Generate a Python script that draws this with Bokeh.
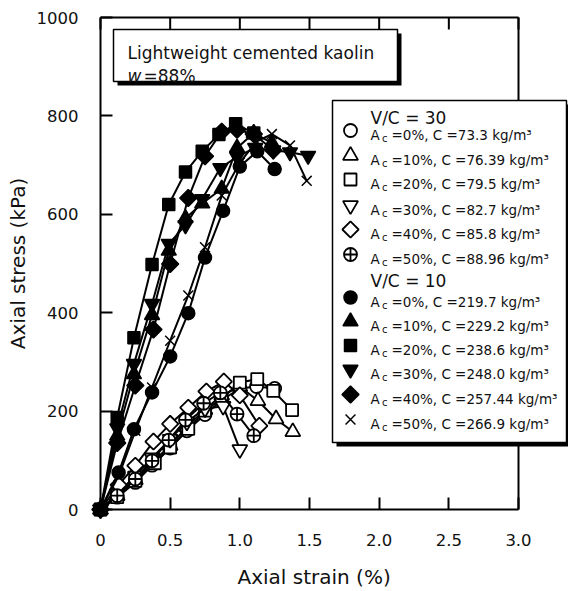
import numpy as np
from bokeh.plotting import figure
from bokeh.models import Range1d, FixedTicker, BoxAnnotation, Label, Title
from bokeh.embed import file_html
from bokeh.resources import INLINE

FONT = "DejaVu Sans"

# ---------------- data ----------------
X_TICKS = [0, 0.5, 1.0, 1.5, 2.0, 2.5, 3.0]
X_TICK_LABELS = ["0", "0.5", "1.0", "1.5", "2.0", "2.5", "3.0"]
Y_TICKS = [0, 200, 400, 600, 800, 1000]
Y_TICK_LABELS = ["0", "200", "400", "600", "800", "1000"]
X_MIN, X_MAX = 0.0, 3.0
Y_MIN, Y_MAX = 0, 1000
X_TITLE = "Axial strain (%)"
Y_TITLE = "Axial stress (kPa)"

AC_LABELS = ["0%", "10%", "20%", "30%", "40%", "50%"]
C_VC30 = ["73.3", "76.39", "79.5", "82.7", "85.8", "88.96"]
C_VC10 = ["219.7", "229.2", "238.6", "248.0", "257.44", "266.9"]
GROUP_TITLES = ["V/C = 30", "V/C = 10"]

# V/C = 30 (open symbols)
vc30_ac0_x = [0, 0.12, 0.25, 0.37, 0.50, 0.62, 0.75, 0.87, 1.00, 1.12, 1.25]
vc30_ac0_y = [0, 25, 55, 90, 125, 160, 193, 222, 246, 250, 246]
vc30_ac10_x = [0, 0.12, 0.25, 0.37, 0.50, 0.62, 0.75, 0.87, 1.00, 1.13, 1.26, 1.38]
vc30_ac10_y = [0, 28, 60, 95, 130, 168, 203, 232, 250, 221, 184, 158]
vc30_ac20_x = [0, 0.12, 0.25, 0.39, 0.50, 0.63, 0.75, 0.87, 1.00, 1.125, 1.24, 1.375]
vc30_ac20_y = [0, 25, 58, 94, 126, 164, 201, 225, 258, 265, 241, 202]
vc30_ac30_x = [0, 0.12, 0.25, 0.37, 0.50, 0.62, 0.75, 0.88, 1.00]
vc30_ac30_y = [0, 32, 68, 105, 143, 178, 205, 210, 122]
vc30_ac40_x = [0, 0.13, 0.25, 0.38, 0.50, 0.63, 0.76, 0.885, 1.00, 1.14]
vc30_ac40_y = [0, 50, 89, 138, 174, 207, 240, 260, 232, 170]
vc30_ac50_x = [0, 0.12, 0.25, 0.37, 0.49, 0.61, 0.74, 0.86, 0.98, 1.10]
vc30_ac50_y = [0, 28, 62, 99, 141, 182, 216, 237, 194, 150]

# V/C = 10 (filled symbols)
vc10_ac0_x = [0, 0.13, 0.24, 0.37, 0.50, 0.63, 0.75, 0.88, 1.00, 1.125, 1.25]
vc10_ac0_y = [0, 75, 163, 238, 311, 399, 512, 607, 697, 728, 692]
vc10_ac10_x = [0, 0.12, 0.24, 0.37, 0.49, 0.61, 0.73, 0.87, 0.98, 1.10, 1.23]
vc10_ac10_y = [0, 150, 275, 395, 526, 592, 622, 652, 735, 765, 745]
vc10_ac20_x = [0, 0.12, 0.24, 0.37, 0.49, 0.61, 0.73, 0.85, 0.97, 1.10]
vc10_ac20_y = [0, 187, 349, 498, 620, 686, 728, 762, 784, 765]
vc10_ac30_x = [0, 0.12, 0.24, 0.37, 0.49, 0.61, 0.73, 0.86, 0.98, 1.11, 1.24, 1.36, 1.49]
vc10_ac30_y = [0, 165, 296, 418, 540, 578, 631, 694, 717, 735, 730, 726, 719]
vc10_ac40_x = [0, 0.12, 0.25, 0.38, 0.50, 0.63, 0.75, 0.87, 0.98, 1.10, 1.24]
vc10_ac40_y = [0, 135, 252, 366, 499, 633, 718, 768, 772, 763, 730]
vc10_ac50_x = [0, 0.13, 0.25, 0.37, 0.50, 0.63, 0.75, 0.87, 1.00, 1.12, 1.23, 1.36, 1.48]
vc10_ac50_y = [0, 68, 160, 248, 343, 435, 533, 638, 705, 748, 763, 740, 668]

VC30_SERIES = [(vc30_ac0_x, vc30_ac0_y), (vc30_ac10_x, vc30_ac10_y), (vc30_ac20_x, vc30_ac20_y),
               (vc30_ac30_x, vc30_ac30_y), (vc30_ac40_x, vc30_ac40_y), (vc30_ac50_x, vc30_ac50_y)]
VC10_SERIES = [(vc10_ac0_x, vc10_ac0_y), (vc10_ac10_x, vc10_ac10_y), (vc10_ac20_x, vc10_ac20_y),
               (vc10_ac30_x, vc10_ac30_y), (vc10_ac40_x, vc10_ac40_y), (vc10_ac50_x, vc10_ac50_y)]

# ---------------- styles / layout ----------------
MARKERS = [("circle", 13, 0.0), ("triangle", 15, 0.0), ("square", 12, 0.0),
           ("inverted_triangle", 15, 0.0), ("square", 11.5, np.pi / 4), ("circle_cross", 13, 0.0)]
MARKERS_FILLED = [("circle", 13, 0.0), ("triangle", 15, 0.0), ("square", 12, 0.0),
                  ("inverted_triangle", 15, 0.0), ("square", 12, np.pi / 4), ("x", 14, 0.0)]

AXES_W = 418            # pixel width of the 0..3 strain span
FRAME_W = 468           # frame extends to the right edge so the legend is not clipped
FRAME_H = 492
X_VIEW_MAX = X_MAX * FRAME_W / AXES_W
TICK_LEN = 12

p = figure(frame_width=FRAME_W, frame_height=FRAME_H,
           x_range=Range1d(X_MIN, X_VIEW_MAX), y_range=Range1d(Y_MIN, Y_MAX),
           output_backend="svg", toolbar_location=None,
           min_border_left=100, min_border_right=0, min_border_top=17, min_border_bottom=40,
           y_axis_label=Y_TITLE)
p.xgrid.visible = False
p.ygrid.visible = False
p.outline_line_color = None
p.background_fill_color = "white"
p.border_fill_color = "white"
p.extra_x_ranges = {"px": Range1d(0, FRAME_W)}
p.extra_y_ranges = {"py": Range1d(0, FRAME_H)}


def style_axis(ax, ticks, labels):
    ax.ticker = FixedTicker(ticks=ticks, minor_ticks=[])
    ax.axis_line_color = "black"
    ax.axis_line_width = 2
    ax.major_tick_in = TICK_LEN
    ax.major_tick_out = 0
    ax.major_tick_line_color = "black"
    ax.major_tick_line_width = 2
    ax.minor_tick_line_color = None
    ax.major_label_overrides = {t: l for t, l in zip(ticks, labels)}
    ax.major_label_text_font = FONT
    ax.major_label_text_font_size = "16.5px"
    ax.major_label_text_color = "#111111"
    ax.axis_label_text_font = FONT
    ax.axis_label_text_font_size = "20px"
    ax.axis_label_text_font_style = "normal"
    ax.axis_label_text_color = "#111111"


xa = p.xaxis[0]
style_axis(xa, X_TICKS, X_TICK_LABELS)
xa.bounds = (X_MIN, X_MAX)
xa.major_label_standoff = 24
ya = p.yaxis[0]
style_axis(ya, Y_TICKS, Y_TICK_LABELS)
ya.major_label_standoff = 22
ya.axis_label_standoff = 4

# x-axis title, centred under the 0..3 span (not under the whole frame)
p.add_layout(Title(text=X_TITLE, align="left", offset=137, standoff=28,
                   text_font=FONT, text_font_size="20px", text_font_style="normal",
                   text_color="#111111"), "below")

# top spine with inward ticks, right spine at strain = 3.0
n = len(X_TICKS)
top_line = p.segment(x0=[X_MIN], y0=[FRAME_H], x1=[X_MAX], y1=[FRAME_H],
                     line_color="black", line_width=2, y_range_name="py")
top_ticks = p.segment(x0=X_TICKS, y0=[FRAME_H] * n, x1=X_TICKS, y1=[FRAME_H - TICK_LEN] * n,
                      line_color="black", line_width=2, y_range_name="py")
right_line = p.segment(x0=[X_MAX], y0=[Y_MIN], x1=[X_MAX], y1=[Y_MAX],
                       line_color="black", line_width=2)
for r in (top_line, top_ticks, right_line):
    r.level = "guide"


# ---------------- curves ----------------
def draw_series(series, markers, filled):
    for (xs, ys), (mk, sz, ang) in zip(series, markers):
        ln = p.line(xs, ys, line_color="black", line_width=2)
        ln.level = "overlay"
        sc = p.scatter(xs, ys, marker=mk, size=sz, angle=ang,
                       fill_color="black" if filled else "white",
                       line_color="black", line_width=1.5 if filled else 1.8)
        sc.level = "overlay"


draw_series(VC30_SERIES, MARKERS, False)
draw_series(VC10_SERIES, MARKERS_FILLED, True)


# ---------------- annotation box ----------------
def screen_box(l, r, b, t, fill, line=None, lw=1.5):
    return BoxAnnotation(left=l, right=r, bottom=b, top=t,
                         left_units="screen", right_units="screen",
                         bottom_units="screen", top_units="screen",
                         fill_color=fill, fill_alpha=1.0,
                         line_color=line if line else "black",
                         line_alpha=1.0 if line else 0.0, line_width=lw,
                         level="annotation")


def txt(x, y, s, size, style="normal"):
    return Label(x=x, y=y, x_units="screen", y_units="screen", text=s,
                 text_font=FONT, text_font_size=size, text_font_style=style,
                 text_color="#111111", text_baseline="alphabetic", text_align="left")


p.add_layout(screen_box(17, 301, 424, 476, "black"))
p.add_layout(screen_box(13, 297, 428, 480, "white", "black"))
p.add_layout(txt(27, 456.5, "Lightweight cemented kaolin", "17px"))
p.add_layout(txt(27, 434, "w", "17px", "italic"))
p.add_layout(txt(43, 434, "=88%", "17px"))

# ---------------- legend ----------------
LEG_MARK_X = 250
LEG_TEXT_X = 270
HEADER_Y = [392, 229]
ROW_Y = [[379, 354, 330, 304, 280, 255], [212, 188, 164, 140, 115, 90]]

p.add_layout(screen_box(236, 470, 63, 405, "black"))
p.add_layout(screen_box(232, 466, 67, 409, "white", "black"))

for g, (title, cvals, markers, filled) in enumerate(
        [(GROUP_TITLES[0], C_VC30, MARKERS, False), (GROUP_TITLES[1], C_VC10, MARKERS_FILLED, True)]):
    p.add_layout(txt(LEG_TEXT_X, HEADER_Y[g], title, "17px"))
    for i, (ac, cv, (mk, sz, ang)) in enumerate(zip(AC_LABELS, cvals, markers)):
        yc = ROW_Y[g][i]
        lm = p.scatter([LEG_MARK_X], [yc], marker=mk, size=sz, angle=ang,
                       fill_color="black" if filled else "white", line_color="black",
                       line_width=1.5 if filled else 1.8,
                       x_range_name="px", y_range_name="py")
        lm.level = "overlay"
        base = yc - 4.9
        p.add_layout(txt(LEG_TEXT_X, base, "A", "13.5px"))
        p.add_layout(txt(LEG_TEXT_X + 11.5, base - 3, "c", "10px"))
        p.add_layout(txt(LEG_TEXT_X + 21, base, f"={ac}, C ={cv} kg/m\u00b3", "13.5px"))

open("out.html", "w").write(file_html(p, INLINE))
